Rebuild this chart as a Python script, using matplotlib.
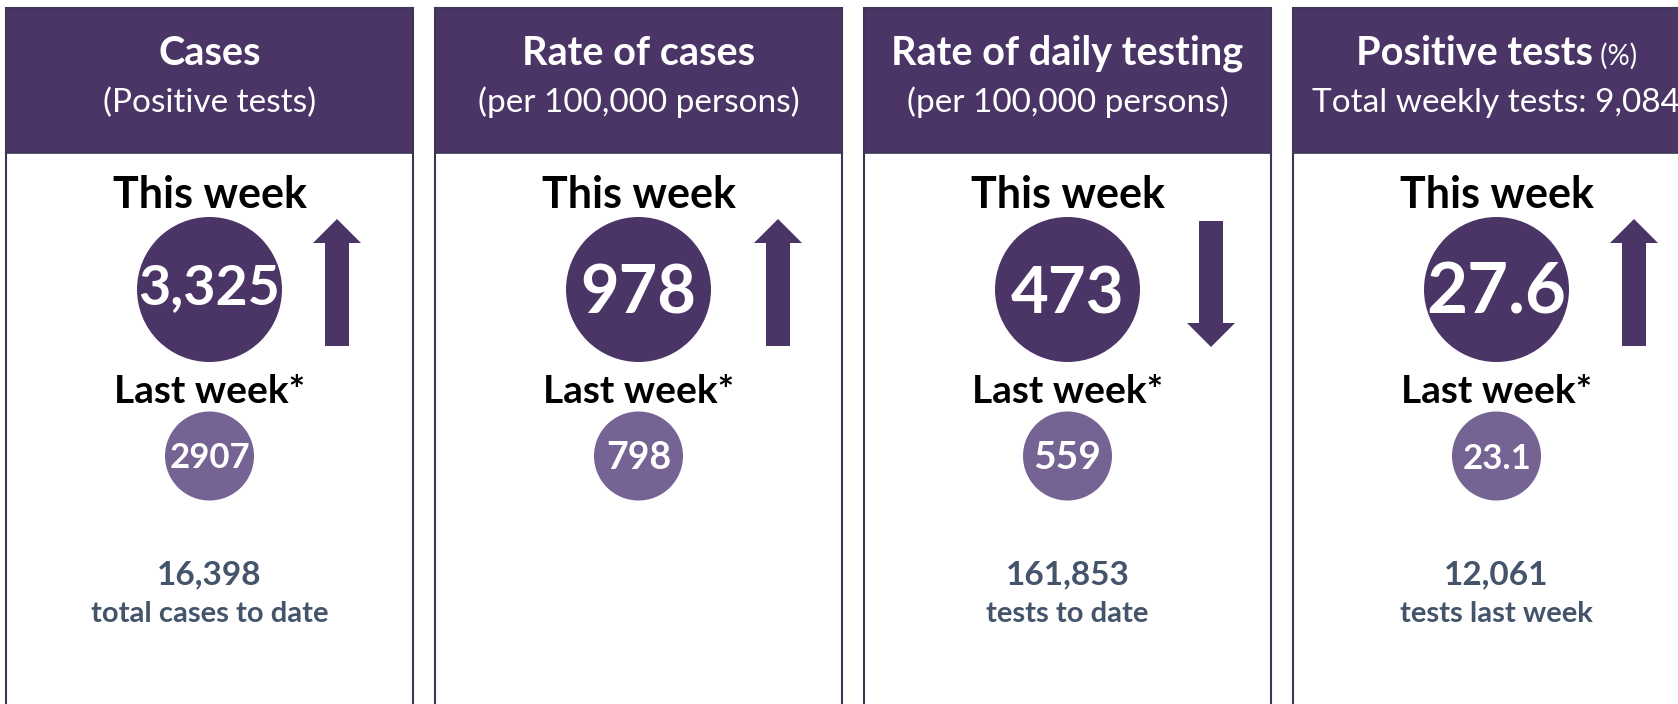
import matplotlib
matplotlib.use("Agg")
import matplotlib.pyplot as plt
from matplotlib.patches import Circle, Rectangle, FancyArrow

# data
titles = ["Cases", "Rate of cases", "Rate of daily testing", "Positive tests"]
title_suffix = ["", "", "", " (%)"]
subtitles = ["(Positive tests)", "(per 100,000 persons)",
             "(per 100,000 persons)", "Total weekly tests: 9,084"]
this_week = [3325, 978, 473, 27.6]
last_week = [2907, 798, 559, 23.1]
this_week_labels = ["3,325", "978", "473", "27.6"]
last_week_labels = ["2907", "798", "559", "23.1"]
footer_values = ["16,398", "", "161,853", "12,061"]
footer_labels = ["total cases to date", "", "tests to date", "tests last week"]

# colours
DARK = "#4b3567"
LIGHT = "#756394"
SLATE = "#44546a"
FONT = ["Lato", "DejaVu Sans"]

# layout (pixels, figure is 1678 x 704 at dpi 100)
W, H = 1678, 704
panel_left = 6
panel_pitch = 429
panel_w = 407
header_top, header_bot = 8, 153
big_r, small_r = 72.5, 44.5
big_cy, small_cy = 289.5, 456
arrow_dx = [331, 343, 347, 341]
big_size = [40, 48, 47, 51]
big_base = [304, 313, 313, 314]
small_size = [25, 27, 28, 25]
small_base = [468, 469, 469, 469]

fig = plt.figure(figsize=(W / 100, H / 100), dpi=100)
ax = fig.add_axes([0, 0, 1, 1])
ax.set_xlim(0, W)
ax.set_ylim(H, 0)
ax.axis("off")
renderer = fig.canvas.get_renderer()

for i in range(len(titles)):
    x0 = panel_left + i * panel_pitch
    cx = x0 + panel_w / 2

    # panel body + header
    ax.add_patch(Rectangle((x0, header_top), panel_w, H + 20 - header_top,
                           facecolor="white", edgecolor="#3d3656", lw=1.5))
    ax.add_patch(Rectangle((x0, header_top), panel_w, header_bot - header_top,
                           facecolor=DARK, edgecolor="#3d3656", lw=1.2))

    # title (bold part + optional regular suffix)
    if title_suffix[i]:
        t1 = ax.text(0, 65, titles[i], color="white", fontsize=28.5,
                     fontweight="bold", family=FONT, ha="left", va="baseline")
        t2 = ax.text(0, 65, title_suffix[i], color="white", fontsize=20,
                     family=FONT, ha="left", va="baseline")
        w1 = t1.get_window_extent(renderer).width
        w2 = t2.get_window_extent(renderer).width
        start = cx - (w1 + w2) / 2
        t1.set_x(start)
        t2.set_x(start + w1)
    else:
        ax.text(cx, 65, titles[i], color="white", fontsize=28.5,
                fontweight="bold", family=FONT, ha="center", va="baseline")
    ax.text(cx, 112, subtitles[i], color="white", fontsize=24,
            family=FONT, ha="center", va="baseline")

    # this week
    ax.text(cx, 208, "This week", color="black", fontsize=31,
            fontweight="bold", family=FONT, ha="center", va="baseline")
    ax.add_patch(Circle((cx, big_cy), big_r, facecolor=DARK, edgecolor="none"))
    ax.text(cx, big_base[i], this_week_labels[i], color="white",
            fontsize=big_size[i], fontweight="bold", family=FONT,
            ha="center", va="baseline")

    # arrow showing direction of change
    axx = x0 + arrow_dx[i]
    if this_week[i] > last_week[i]:
        ax.add_patch(FancyArrow(axx, 346, 0, -127, width=24, head_width=48,
                                head_length=24, length_includes_head=True,
                                facecolor=DARK, edgecolor="none"))
    else:
        ax.add_patch(FancyArrow(axx, 221, 0, 126, width=24, head_width=48,
                                head_length=24, length_includes_head=True,
                                facecolor=DARK, edgecolor="none"))

    # last week
    ax.text(cx, 403, "Last week*", color="black", fontsize=28,
            fontweight="bold", family=FONT, ha="center", va="baseline")
    ax.add_patch(Circle((cx, small_cy), small_r, facecolor=LIGHT,
                        edgecolor="none"))
    ax.text(cx, small_base[i], last_week_labels[i], color="white",
            fontsize=small_size[i], fontweight="bold", family=FONT,
            ha="center", va="baseline")

    # footer
    if footer_values[i]:
        ax.text(cx, 584, footer_values[i], color=SLATE, fontsize=24,
                fontweight="bold", family=FONT, ha="center", va="baseline")
        ax.text(cx, 622, footer_labels[i], color=SLATE, fontsize=21,
                fontweight="bold", family=FONT, ha="center", va="baseline")

fig.savefig("out.png", dpi=100, facecolor="white")
